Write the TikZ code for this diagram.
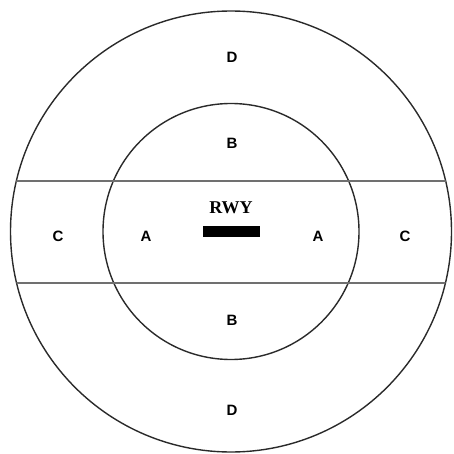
\documentclass[tikz,border=0pt]{standalone}
\usepackage{fontspec}
\setsansfont{Liberation Sans}
\setmainfont{Liberation Serif}
\usetikzlibrary{positioning}
\definecolor{cring}{HTML}{2A2A2A}
\definecolor{cband}{HTML}{707070}
\tikzset{
  ring/.style={draw=cring, line width=1.4pt},
  band/.style={draw=cband, line width=1.2pt},
  zone/.style={font=\sffamily\bfseries\fontsize{15}{17}\selectfont, inner sep=0pt},
  rwy/.style={font=\rmfamily\bfseries\fontsize{18}{20}\selectfont, inner sep=0pt},
  strip/.style={fill=black, draw=none, minimum width=57pt, minimum height=11pt, inner sep=0pt},
}
\begin{document}
\begin{tikzpicture}[x=1pt,y=-1pt]
\useasboundingbox (0,0) rectangle (454,454);
% circles
\coordinate (ctr) at (231,231.5);
\draw[ring] (ctr) circle[radius=220.5];
\draw[ring] (ctr) circle[radius=128];
% band across the runway
\begin{scope}
  \clip (ctr) circle[radius=220.5];
  \draw[band] (0,181) -- (454,181);
  \draw[band] (0,283) -- (454,283);
\end{scope}
% zone letters
\node[zone] (dtop) at (232,57) {D};
\node[zone] (btop) at (232,143) {B};
\node[zone] (cleft) at (58,236) {C};
\node[zone] (aleft) at (146,236) {A};
\node[zone] (aright) at (318,236) {A};
\node[zone] (cright) at (405,236) {C};
\node[zone] (bbot) at (232,320) {B};
\node[zone] (dbot) at (232,410) {D};
% runway
\node[strip] (bar) at (231.5,231.5) {};
\node[rwy] (rwylbl) at (231,208) {RWY};
\end{tikzpicture}
\end{document}
